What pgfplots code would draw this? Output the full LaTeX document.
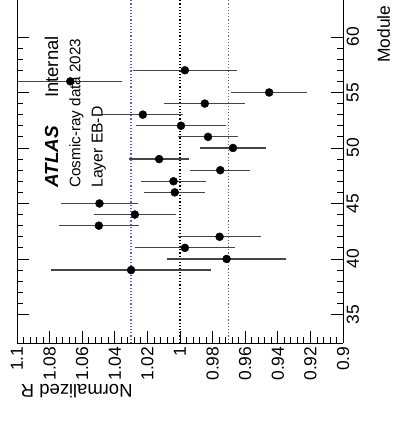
\documentclass[border=0pt]{standalone}
\usepackage{pgfplots}
\pgfplotsset{compat=1.18}
\usepackage{pgfplotstable}
\usepackage{fontspec}
\setmainfont{Liberation Sans}
\definecolor{refblue}{rgb}{0.35,0.35,0.85}
\definecolor{barcol}{rgb}{0.27,0.27,0.27}

\pgfplotstableread{
module R err
39 1.0300 0.0490
40 0.9714 0.0365
41 0.9970 0.0307
42 0.9757 0.0255
43 1.0498 0.0245
44 1.0277 0.0252
45 1.0494 0.0236
46 1.0032 0.0187
47 1.0040 0.0198
48 0.9753 0.0185
49 1.0128 0.0186
50 0.9675 0.0200
51 0.9828 0.0185
52 0.9994 0.0275
53 1.0228 0.0248
54 0.9848 0.0248
55 0.9453 0.0233
56 1.0673 0.0319
57 0.9970 0.0317
}\datatable

\begin{document}
\begin{tikzpicture}
\begin{axis}[
  scale only axis,
  width=326bp, height=343bp,
  xmin=0.9, xmax=1.1, x dir=reverse,
  ymin=32.43, ymax=63.33,
  axis x line*=bottom,
  axis y line*=box,
  clip=false,
  xtick={0.9,0.92,0.94,0.96,0.98,1,1.02,1.04,1.06,1.08,1.1},
  xticklabels={0.9,0.92,0.94,0.96,0.98,1,1.02,1.04,1.06,1.08,1.1},
  minor x tick num=4,
  ytick={35,40,45,50,55,60},
  yticklabels={35,40,45,50,55,60},
  minor y tick num=4,
  xtick pos=bottom,
  ytick pos=both,
  yticklabel pos=right,
  major tick length=12bp,
  minor tick length=6bp,
  tick style={line width=0.8bp, black},
  axis line style={line width=0.9bp, black},
  /pgf/number format/assume math mode=true,
  xticklabel style={rotate=90, anchor=east, inner sep=3.5bp, font=\fontsize{17.5}{17.5}\selectfont},
  yticklabel style={rotate=90, anchor=north, inner sep=3.5bp, font=\fontsize{17.5}{17.5}\selectfont},
]
\addplot[black, dotted, line width=1.2bp] coordinates {(1,32.43) (1,63.33)};
\addplot[refblue, dotted, line width=1.2bp] coordinates {(0.97,32.43) (0.97,63.33)};
\addplot[refblue, dotted, line width=1.2bp] coordinates {(1.03,32.43) (1.03,63.33)};

\addplot[only marks, mark=*, mark size=4bp, black,
  error bars/.cd, x dir=both, x explicit,
  error bar style={line width=1.2bp, barcol}, error mark=none]
  table[x=R, y=module, x error=err] {\datatable};

\node[rotate=90, anchor=base west, inner sep=0pt, font=\fontsize{19}{19}\selectfont\bfseries\itshape] at (axis cs:1.0747,46.40) {ATLAS};
\node[rotate=90, anchor=base west, inner sep=0pt, font=\fontsize{18.5}{18.5}\selectfont] at (axis cs:1.0747,54.5) {Internal};
\node[rotate=90, anchor=base west, inner sep=0pt, font=\fontsize{15.3}{15.3}\selectfont] at (axis cs:1.0611,46.40) {Cosmic-ray data 2023};
\node[rotate=90, anchor=base west, inner sep=0pt, font=\fontsize{15.8}{15.8}\selectfont] at (axis cs:1.0475,46.40) {Layer EB-D};
\node[rotate=90, anchor=base west, inner sep=0pt, font=\fontsize{17.5}{17.5}\selectfont] at (axis cs:0.8712,57.66) {Module};
\node[rotate=180, anchor=base west, inner sep=0pt, font=\fontsize{18.5}{18.5}\selectfont] at (axis cs:1.029,28.65) {Normalized R};
\end{axis}
\pgfresetboundingbox
\path[use as bounding box] ([shift={(-17bp,-82bp)}]current axis.south west) rectangle ([shift={(377bp,343bp)}]current axis.south west);
\end{tikzpicture}
\end{document}
